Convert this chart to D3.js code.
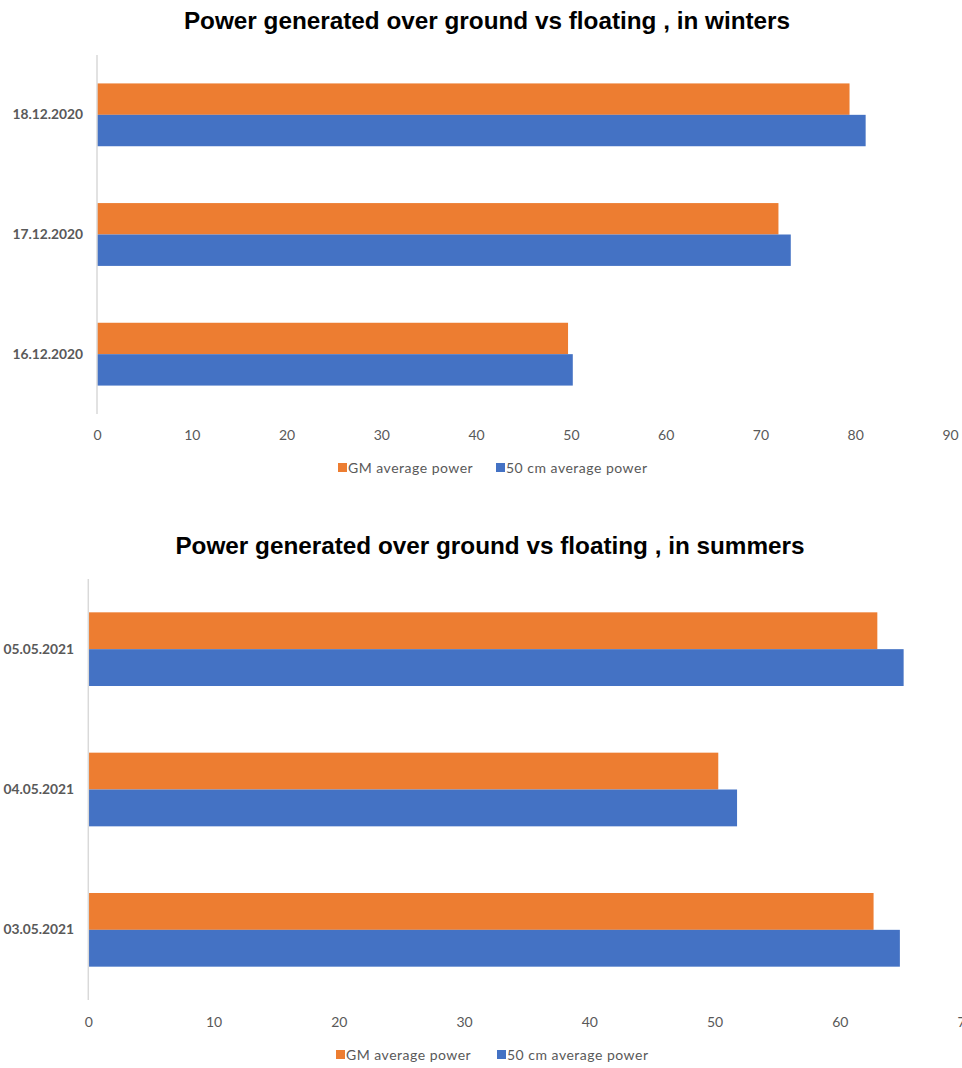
<!DOCTYPE html>
<html>
<head>
<meta charset="utf-8">
<script src="https://cdn.jsdelivr.net/npm/d3@7"></script>
<style>
  html, body { margin: 0; padding: 0; background: #fff; }
  svg { display: block; }
</style>
</head>
<body>
<div id="chart"></div>
<script>
// ---- Data ----
const seriesNames = ["GM average power", "50 cm average power"];
const seriesColors = ["#ED7D31", "#4472C4"];

const winterTitle = "Power generated over ground vs floating , in winters";
const winterDates = ["16.12.2020", "17.12.2020", "18.12.2020"];
const winterGM = [49.7, 71.9, 79.4];
const winter50 = [50.2, 73.2, 81.1];
const winterTicks = [0, 10, 20, 30, 40, 50, 60, 70, 80, 90];

const summerTitle = "Power generated over ground vs floating , in summers";
const summerDates = ["03.05.2021", "04.05.2021", "05.05.2021"];
const summerGM = [62.7, 50.3, 63.0];
const summer50 = [64.8, 51.8, 65.1];
const summerTicks = [0, 10, 20, 30, 40, 50, 60, 70];

const W = 962, H = 1068;
const svg = d3.select("#chart").append("svg").attr("width", W).attr("height", H);

function drawChart(opt) {
  const g = svg.append("g");
  const rows = opt.dates.map((d, i) => ({ date: d, vals: [opt.gm[i], opt.fifty[i]] }));

  const x = d3.scaleLinear().domain([0, d3.max(opt.ticks)]).range([opt.x0, opt.x1]);
  const y = d3.scaleBand().domain(opt.dates.slice().reverse()).range([opt.yTop, opt.yBot])
    .paddingInner(0.475).paddingOuter(0.2375);
  const ys = d3.scaleBand().domain([0, 1]).range([0, y.bandwidth()]);

  // title
  g.append("text").attr("x", opt.titleX).attr("y", opt.titleY)
    .attr("text-anchor", "middle")
    .attr("font-family", "Liberation Sans, Arial, sans-serif")
    .attr("font-weight", "bold").attr("font-size", 24.3).attr("fill", "#000")
    .text(opt.title);

  // bars
  const grp = g.selectAll("g.cat").data(rows).join("g")
    .attr("transform", d => `translate(0,${y(d.date)})`);
  grp.selectAll("rect").data(d => d.vals.map((v, k) => ({ v, k }))).join("rect")
    .attr("x", x(0))
    .attr("y", d => ys(d.k))
    .attr("width", d => x(d.v) - x(0))
    .attr("height", ys.bandwidth())
    .attr("fill", d => seriesColors[d.k]);

  // vertical axis line
  g.append("line").attr("x1", x(0)).attr("x2", x(0))
    .attr("y1", opt.yTop).attr("y2", opt.yBot)
    .attr("stroke", "#d9d9d9").attr("stroke-width", 1.5);

  // category labels
  const yAxis = d3.axisLeft(y).tickSize(0).tickPadding(0);
  const ya = g.append("g").attr("transform", `translate(${opt.labelRight},0)`).call(yAxis);
  ya.select(".domain").remove();
  ya.selectAll("text").attr("font-family", "Lato, sans-serif").attr("font-weight", "bold")
    .attr("font-size", 13.8).attr("fill", "#595959");

  // x tick labels
  const xAxis = d3.axisBottom(x).tickValues(opt.ticks).tickSize(0).tickPadding(0).tickFormat(d3.format("d"));
  const xa = g.append("g").attr("transform", `translate(0,${opt.tickY})`).call(xAxis);
  xa.select(".domain").remove();
  xa.selectAll("text").attr("font-family", "Lato, sans-serif")
    .attr("font-size", 14).attr("fill", "#595959").attr("dy", "0.35em");

  // legend
  const lg = g.append("g").attr("transform", `translate(0,${opt.legendY})`);
  seriesNames.forEach((name, k) => {
    lg.append("rect").attr("x", opt.legendX[k]).attr("y", -5).attr("width", 9).attr("height", 9)
      .attr("fill", seriesColors[k]);
    lg.append("text").attr("x", opt.legendX[k] + 10).attr("y", 0).attr("dy", "0.35em")
      .attr("font-family", "Lato, sans-serif").attr("font-size", 14).attr("fill", "#595959")
      .attr("letter-spacing", 0.5)
      .text(name);
  });
}

drawChart({
  title: winterTitle, titleX: 487, titleY: 29,
  dates: winterDates, gm: winterGM, fifty: winter50, ticks: winterTicks,
  x0: 97, x1: 950, yTop: 55, yBot: 414,
  labelRight: 83, tickY: 435, legendY: 468, legendX: [338, 496]
});

drawChart({
  title: summerTitle, titleX: 490, titleY: 554,
  dates: summerDates, gm: summerGM, fifty: summer50, ticks: summerTicks,
  x0: 88.3, x1: 965, yTop: 579, yBot: 1000,
  labelRight: 74, tickY: 1022, legendY: 1055, legendX: [336, 497]
});
</script>
</body>
</html>
